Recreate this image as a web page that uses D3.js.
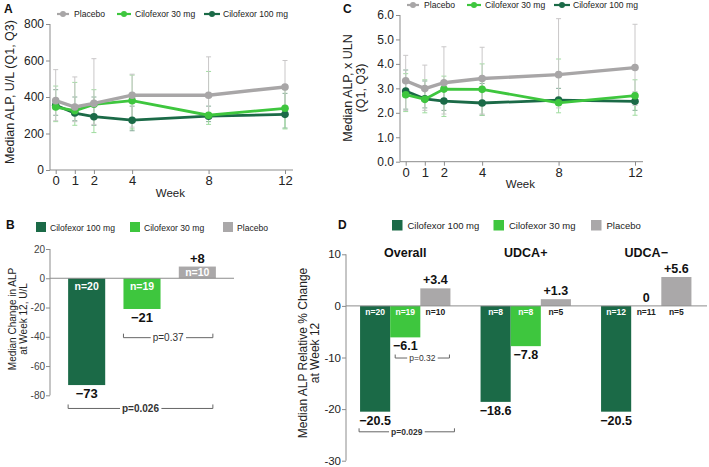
<!DOCTYPE html>
<html><head><meta charset="utf-8">
<script src="https://cdn.jsdelivr.net/npm/d3@7"></script>
<style>body{margin:0;background:#fff}svg{display:block;font-family:"Liberation Sans",Arial,sans-serif}</style>
</head><body><svg id="c" width="709" height="467"></svg>
<script>
// ---------- DATA ----------
const weeks = [0, 1, 2, 4, 8, 12];
const seriesNames = ["Placebo", "Cilofexor 30 mg", "Cilofexor 100 mg"];
// Panel A: median ALP U/L
const aPlacebo = [380, 345, 365, 410, 410, 455];
const aC30 = [345, 325, 360, 380, 300, 338];
const aC100 = [355, 312, 292, 273, 295, 305];
const aPlaceboQ1 = [270, 265, 250, 235, 290, 300], aPlaceboQ3 = [550, 510, 610, 525, 620, 600];
const aC30Q1 = [265, 245, 205, 225, 250, 225], aC30Q3 = [460, 480, 440, 520, 540, 440];
const aC100Q1 = [300, 270, 245, 215, 265, 230], aC100Q3 = [440, 400, 400, 350, 350, 420];
const aYTicks = [0, 200, 400, 600, 800];
// Panel C: median ALP x ULN
const cPlacebo = [3.31, 2.99, 3.23, 3.40, 3.56, 3.85];
const cC30 = [2.74, 2.55, 2.97, 2.96, 2.41, 2.70];
const cC100 = [2.89, 2.57, 2.48, 2.40, 2.52, 2.47];
const cPlaceboQ1 = [2.1, 2.1, 1.95, 1.95, 2.2, 2.3], cPlaceboQ3 = [4.35, 3.95, 4.7, 4.68, 5.85, 5.62];
const cC30Q1 = [2.05, 2.0, 1.85, 1.9, 2.0, 1.9], cC30Q3 = [3.6, 3.35, 3.5, 4.0, 4.2, 3.35];
const cC100Q1 = [2.15, 2.2, 2.1, 1.9, 2.3, 2.1], cC100Q3 = [3.75, 3.3, 3.0, 3.2, 3.0, 2.85];
const cYTicks = [0, 1, 2, 3, 4, 5, 6];
// Panel B: median change at week 12
const bCategories = ["Cilofexor 100 mg", "Cilofexor 30 mg", "Placebo"];
const bValues = [-73, -21, 8];
const bN = ["n=20", "n=19", "n=10"];
const bLabels = ["\u221273", "\u221221", "+8"];
const bYTicks = [-80, -60, -40, -20, 0, 20];
// Panel D: relative % change
const dGroups = ["Overall", "UDCA+", "UDCA\u2212"];
const dC100 = [-20.5, -18.6, -20.5];
const dC30 = [-6.1, -7.8, 0];
const dPlacebo = [3.4, 1.3, 5.6];
const dN100 = ["n=20", "n=8", "n=12"];
const dN30 = ["n=19", "n=8", "n=11"];
const dNPl = ["n=10", "n=5", "n=5"];
const dL100 = ["\u221220.5", "\u221218.6", "\u221220.5"];
const dL30 = ["\u22126.1", "\u22127.8", "0"];
const dLPl = ["+3.4", "+1.3", "+5.6"];
const dYTicks = [-30, -20, -10, 0, 10];

// ---------- STYLE ----------
const COL = {"Placebo": "#a8a6a7", "Cilofexor 30 mg": "#3ec63e", "Cilofexor 100 mg": "#1b6a47"};
const ERR = {"Placebo": "#c9c7c8", "Cilofexor 30 mg": "#9fdc9f", "Cilofexor 100 mg": "#86ad98"};
const AX = "#8c8c8c";
const svg = d3.select("#c");

function panelLine(o) {
  const g = svg.append("g");
  const x = d3.scaleLinear().domain([0, 12]).range(o.xr);
  const y = d3.scaleLinear().domain(o.yd).range(o.yr);
  g.append("line").attr("x1", o.ax).attr("x2", o.ax).attr("y1", o.yr[1]).attr("y2", o.yr[0]).attr("stroke", AX);
  g.append("line").attr("x1", o.ax).attr("x2", o.xr[1] + 8).attr("y1", o.yr[0]).attr("y2", o.yr[0]).attr("stroke", AX);
  const ya = g.append("g").attr("transform", `translate(${o.ax},0)`)
    .call(d3.axisLeft(y).tickValues(o.yt).tickSize(4).tickFormat(o.fmt));
  ya.select(".domain").remove();
  ya.selectAll("line").attr("stroke", AX);
  ya.selectAll("text").attr("font-size", 12).attr("fill", "#222").attr("x", -6);
  const xa = g.append("g").attr("transform", `translate(0,${o.yr[0]})`)
    .call(d3.axisBottom(x).tickValues(weeks).tickSize(4).tickFormat(d3.format("d")));
  xa.select(".domain").remove();
  xa.selectAll("line").attr("stroke", AX);
  xa.selectAll("text").attr("font-size", 13).attr("fill", "#222").attr("y", 6);
  g.append("text").attr("x", (o.xr[0] + o.xr[1]) / 2).attr("y", o.weekY).attr("text-anchor", "middle")
    .attr("font-size", 11.5).attr("fill", "#222").text("Week");
  o.series.forEach(s => {
    weeks.forEach((w, i) => {
      const cx = x(w);
      g.append("line").attr("x1", cx).attr("x2", cx).attr("y1", y(s.q1[i])).attr("y2", y(s.q3[i]))
        .attr("stroke", ERR[s.name]).attr("stroke-width", 1);
      [s.q1[i], s.q3[i]].forEach(v => g.append("line").attr("x1", cx - 2.5).attr("x2", cx + 2.5)
        .attr("y1", y(v)).attr("y2", y(v)).attr("stroke", ERR[s.name]).attr("stroke-width", 1));
    });
  });
  const line = d3.line().x((d, i) => x(weeks[i])).y(d => y(d));
  o.series.forEach(s => {
    g.append("path").attr("d", line(s.v)).attr("fill", "none").attr("stroke", COL[s.name])
      .attr("stroke-width", s.name === "Placebo" ? 3.4 : 2.8);
    g.selectAll(null).data(s.v).enter().append("circle")
      .attr("cx", (d, i) => x(weeks[i])).attr("cy", d => y(d)).attr("r", 3.8).attr("fill", COL[s.name]);
  });
  const lx = o.legX, ly = o.legY;
  const offs = [0, 60, 147], toffs = [17, 78, 166], lw = [12, 14, 16];
  seriesNames.forEach((n, i) => {
    g.append("line").attr("x1", lx + offs[i]).attr("x2", lx + offs[i] + lw[i]).attr("y1", ly).attr("y2", ly)
      .attr("stroke", COL[n]).attr("stroke-width", 2.2);
    g.append("circle").attr("cx", lx + offs[i] + lw[i] / 2).attr("cy", ly).attr("r", 3).attr("fill", COL[n]);
    g.append("text").attr("x", lx + toffs[i]).attr("y", ly + 3.2).attr("font-size", 8.6).attr("fill", "#222").text(n);
  });
}

panelLine({
  xr: [55.7, 285], ax: 50, yd: [0, 800], yr: [170, 24], yt: aYTicks, fmt: d3.format("d"), weekY: 197,
  legX: 57, legY: 14,
  series: [
    {name: "Cilofexor 100 mg", v: aC100, q1: aC100Q1, q3: aC100Q3},
    {name: "Cilofexor 30 mg", v: aC30, q1: aC30Q1, q3: aC30Q3},
    {name: "Placebo", v: aPlacebo, q1: aPlaceboQ1, q3: aPlaceboQ3}
  ]
});
panelLine({
  xr: [405.7, 635], ax: 400, yd: [0, 6], yr: [161.7, 15], yt: cYTicks, fmt: d3.format(".1f"), weekY: 188,
  legX: 407, legY: 5,
  series: [
    {name: "Cilofexor 100 mg", v: cC100, q1: cC100Q1, q3: cC100Q3},
    {name: "Cilofexor 30 mg", v: cC30, q1: cC30Q1, q3: cC30Q3},
    {name: "Placebo", v: cPlacebo, q1: cPlaceboQ1, q3: cPlaceboQ3}
  ]
});
svg.append("text").attr("transform", "translate(14,92) rotate(-90)").attr("text-anchor", "middle")
  .attr("font-size", 12.5).attr("fill", "#222").text("Median ALP, U/L (Q1, Q3)");
const ct = svg.append("text").attr("transform", "translate(352,88) rotate(-90)").attr("text-anchor", "middle")
  .attr("font-size", 12.5).attr("fill", "#222");
ct.append("tspan").attr("x", 0).attr("dy", 0).text("Median ALP, x ULN");
ct.append("tspan").attr("x", 0).attr("dy", 13).text("(Q1, Q3)");

[["A", 4, 13], ["C", 343, 13], ["B", 6, 229], ["D", 338, 229]].forEach(([t, x, y]) =>
  svg.append("text").attr("x", x).attr("y", y).attr("font-size", 12).attr("font-weight", "bold").attr("fill", "#111").text(t));

function bracketIn(g, x1, x2, yy, label, bold, fs, tick) {
  g.append("path").attr("d", `M${x1},${yy - tick}V${yy}H${x2}V${yy - tick}`).attr("fill", "none").attr("stroke", "#666");
  const t = g.append("text").attr("x", (x1 + x2) / 2).attr("y", yy + fs * 0.35).attr("text-anchor", "middle")
    .attr("font-size", fs).attr("fill", "#333").attr("font-weight", bold ? "bold" : "normal").text(label);
  const bb = t.node().getBBox();
  g.append("rect").attr("x", bb.x - 2).attr("y", yy - 2).attr("width", bb.width + 4).attr("height", 4).attr("fill", "#fff");
  t.raise();
}

// ---------- Panel B ----------
{
  const g = svg.append("g");
  const x = d3.scaleBand().domain(bCategories).range([59, 225]).paddingInner(0.33).paddingOuter(0.165);
  const y = d3.scaleLinear().domain([-80, 20]).range([395.3, 249]);
  const bcol = {"Cilofexor 100 mg": COL["Cilofexor 100 mg"], "Cilofexor 30 mg": "#3ec63e", "Placebo": "#aaa8a9"};
  g.append("line").attr("x1", 50).attr("x2", 50).attr("y1", y(20)).attr("y2", y(-80)).attr("stroke", AX);
  const ya = g.append("g").attr("transform", "translate(50,0)")
    .call(d3.axisLeft(y).tickValues(bYTicks).tickSize(4).tickFormat(d3.format("d")));
  ya.select(".domain").remove();
  ya.selectAll("line").attr("stroke", AX);
  ya.selectAll("text").attr("font-size", 10).attr("fill", "#444").attr("x", -5).text(d => String(d));
  g.selectAll(null).data(bCategories).enter().append("rect")
    .attr("x", d => x(d)).attr("width", x.bandwidth())
    .attr("y", (d, i) => y(Math.max(0, bValues[i]))).attr("height", (d, i) => Math.abs(y(bValues[i]) - y(0)))
    .attr("fill", d => bcol[d]);
  g.append("line").attr("x1", 50).attr("x2", 234).attr("y1", y(0)).attr("y2", y(0)).attr("stroke", AX);
  bCategories.forEach((c, i) => {
    const cx = x(c) + x.bandwidth() / 2;
    const ny = bValues[i] < 0 ? y(0) + 12 : (y(0) + y(bValues[i])) / 2 + 4;
    g.append("text").attr("x", cx).attr("y", ny).attr("text-anchor", "middle").attr("font-size", 10.5)
      .attr("font-weight", "bold").attr("fill", "#fff").text(bN[i]);
    const ly = bValues[i] < 0 ? y(bValues[i]) + 13 : y(bValues[i]) - 4;
    g.append("text").attr("x", cx).attr("y", ly).attr("text-anchor", "middle").attr("font-size", 13)
      .attr("font-weight", "bold").attr("fill", "#111").text(bLabels[i]);
  });
  bracketIn(g, x("Cilofexor 30 mg"), x("Placebo") + x.bandwidth() - 3, y(-40.6), "p=0.37", false, 10, 4);
  bracketIn(g, x("Cilofexor 100 mg"), x("Placebo") + x.bandwidth() - 3, y(-89), "p=0.026", true, 10, 4);
  const lxs = [36, 130, 223];
  bCategories.forEach((c, i) => {
    g.append("rect").attr("x", lxs[i]).attr("y", 222).attr("width", 10).attr("height", 10).attr("fill", bcol[c]);
    g.append("text").attr("x", lxs[i] + 14).attr("y", 230.5).attr("font-size", 8.6).attr("fill", "#222").text(c);
  });
  const t = g.append("text").attr("transform", "translate(16,319) rotate(-90)").attr("text-anchor", "middle")
    .attr("font-size", 10).attr("fill", "#222");
  t.append("tspan").attr("x", 0).attr("dy", 0).text("Median Change in ALP");
  t.append("tspan").attr("x", 0).attr("dy", 10.5).text("at Week 12, U/L");
}

// ---------- Panel D ----------
{
  const g = svg.append("g");
  const xg = d3.scaleBand().domain(dGroups).range([345, 706.5]).paddingInner(0.25).paddingOuter(0.125);
  const xs = d3.scaleBand().domain(["Cilofexor 100 mg", "Cilofexor 30 mg", "Placebo"]).range([0, xg.bandwidth()]);
  const y = d3.scaleLinear().domain([-30, 10]).range([460.7, 254.3]);
  const dcol = {"Cilofexor 100 mg": COL["Cilofexor 100 mg"], "Cilofexor 30 mg": "#3ec63e", "Placebo": "#aaa8a9"};
  g.append("line").attr("x1", 346).attr("x2", 346).attr("y1", y(10)).attr("y2", y(-30)).attr("stroke", AX);
  const ya = g.append("g").attr("transform", "translate(346,0)")
    .call(d3.axisLeft(y).tickValues(dYTicks).tickSize(4).tickFormat(d3.format("d")));
  ya.select(".domain").remove();
  ya.selectAll("line").attr("stroke", AX);
  ya.selectAll("text").attr("font-size", 11.5).attr("fill", "#222").attr("x", -5).text(d => String(d));
  const sets = [
    {s: "Cilofexor 100 mg", v: dC100, n: dN100, l: dL100},
    {s: "Cilofexor 30 mg", v: dC30, n: dN30, l: dL30},
    {s: "Placebo", v: dPlacebo, n: dNPl, l: dLPl}
  ];
  sets.forEach(st => {
    dGroups.forEach((gr, i) => {
      const v = st.v[i];
      const x0 = xg(gr) + xs(st.s), w = xs.bandwidth(), cx = x0 + w / 2;
      if (v !== 0) g.append("rect").attr("x", x0).attr("width", w).attr("y", y(Math.max(0, v)))
        .attr("height", Math.abs(y(v) - y(0))).attr("fill", dcol[st.s]);
      const inside = v < 0;
      g.append("text").attr("x", cx).attr("y", y(0) + 9).attr("text-anchor", "middle").attr("font-size", 8.5)
        .attr("font-weight", "bold").attr("fill", inside ? "#fff" : "#222").text(st.n[i]);
      const ly = v < 0 ? y(v) + 13 : y(v) - 4;
      g.append("text").attr("x", cx).attr("y", ly).attr("text-anchor", "middle").attr("font-size", 12.5)
        .attr("font-weight", "bold").attr("fill", "#111").text(st.l[i]);
    });
  });
  g.append("line").attr("x1", 346).attr("x2", 707).attr("y1", y(0)).attr("y2", y(0)).attr("stroke", AX);
  dGroups.forEach(gr => g.append("text").attr("x", xg(gr) + xg.bandwidth() / 2).attr("y", 257)
    .attr("text-anchor", "middle").attr("font-size", 12.5).attr("font-weight", "bold").attr("fill", "#111").text(gr));
  const ov = xg("Overall");
  bracketIn(g, ov + xs("Cilofexor 30 mg") + 5, ov + xs("Placebo") + xs.bandwidth() - 1, y(-10.1), "p=0.32", false, 8.5, 3.5);
  bracketIn(g, ov + xs("Cilofexor 100 mg") - 1, ov + xs("Placebo") + xs.bandwidth() + 4, y(-24.4), "p=0.029", true, 8.5, 3.5);
  const lxs = [392, 493.5, 591];
  ["Cilofexor 100 mg", "Cilofexor 30 mg", "Placebo"].forEach((c, i) => {
    g.append("rect").attr("x", lxs[i]).attr("y", 220).attr("width", 10.5).attr("height", 10.5).attr("fill", dcol[c]);
    g.append("text").attr("x", lxs[i] + 15.5).attr("y", 229).attr("font-size", 9.5).attr("fill", "#222").text(c);
  });
  const t = g.append("text").attr("transform", "translate(307,353) rotate(-90)").attr("text-anchor", "middle")
    .attr("font-size", 12).attr("fill", "#222");
  t.append("tspan").attr("x", 0).attr("dy", 0).text("Median ALP Relative % Change");
  t.append("tspan").attr("x", 0).attr("dy", 11.5).text("at Week 12");
}
</script></body></html>
